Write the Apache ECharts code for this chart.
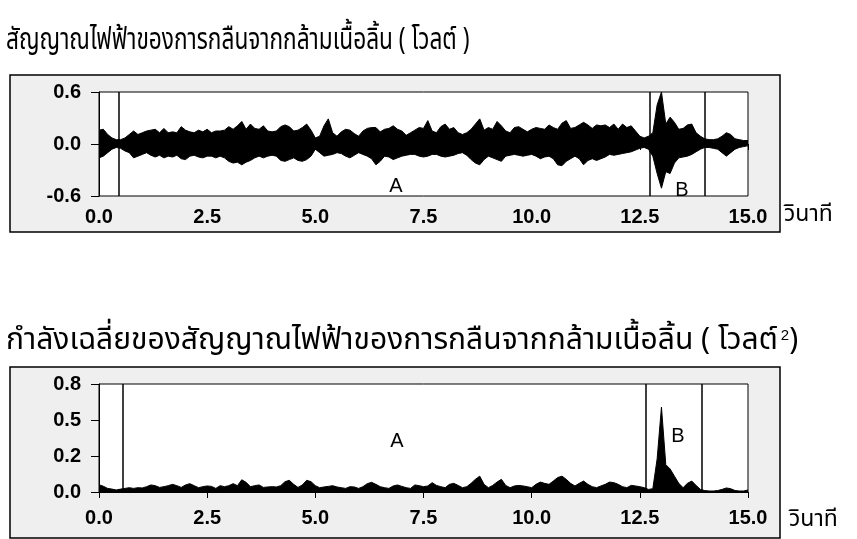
<!DOCTYPE html>
<html>
<head>
<meta charset="utf-8">
<script src="https://cdn.jsdelivr.net/npm/echarts@6/dist/echarts.min.js"></script>
<style>
    body { margin: 0; background: #fff; }
    #main { width: 857px; height: 539px; }
</style>
</head>
<body>
<div id="main"></div>
<script type="text/javascript">
    // sampled every 0.1 s, from 0.0 to 15.0 s
    var sampleStep = 0.1;

    // upper / lower envelope of the EMG signal (volt)
    var sigUpper = [
        0.16, 0.17, 0.11, 0.07, 0.05, 0.05, 0.07, 0.11, 0.15, 0.11,
        0.13, 0.15, 0.16, 0.17, 0.13, 0.18, 0.13, 0.14, 0.13, 0.20,
        0.16, 0.14, 0.13, 0.16, 0.14, 0.17, 0.13, 0.15, 0.15, 0.16,
        0.20, 0.17, 0.21, 0.26, 0.17, 0.23, 0.18, 0.17, 0.21, 0.15,
        0.14, 0.15, 0.20, 0.22, 0.20, 0.15, 0.16, 0.19, 0.23, 0.16,
        0.07, 0.09, 0.21, 0.29, 0.13, 0.09, 0.14, 0.17, 0.16, 0.12,
        0.09, 0.15, 0.18, 0.19, 0.19, 0.14, 0.17, 0.18, 0.21, 0.17,
        0.15, 0.10, 0.13, 0.16, 0.19, 0.18, 0.27, 0.15, 0.13, 0.20,
        0.23, 0.17, 0.19, 0.13, 0.11, 0.13, 0.17, 0.23, 0.29, 0.16,
        0.19, 0.17, 0.26, 0.21, 0.15, 0.13, 0.19, 0.20, 0.17, 0.14,
        0.17, 0.19, 0.18, 0.17, 0.22, 0.19, 0.17, 0.24, 0.27, 0.18,
        0.19, 0.22, 0.25, 0.22, 0.18, 0.22, 0.21, 0.22, 0.19, 0.23,
        0.17, 0.23, 0.19, 0.21, 0.15, 0.09, 0.07, 0.09, 0.13, 0.45,
        0.60, 0.23, 0.31, 0.25, 0.17, 0.18, 0.22, 0.23, 0.13, 0.09,
        0.06, 0.05, 0.05, 0.06, 0.09, 0.13, 0.11, 0.06, 0.05, 0.04,
        0.04
    ];
    var sigLower = [
        -0.16, -0.14, -0.10, -0.06, -0.04, -0.05, -0.08, -0.10, -0.16, -0.14,
        -0.12, -0.10, -0.13, -0.15, -0.13, -0.16, -0.14, -0.15, -0.13, -0.17,
        -0.18, -0.14, -0.13, -0.15, -0.16, -0.14, -0.14, -0.16, -0.14, -0.16,
        -0.20, -0.22, -0.21, -0.24, -0.21, -0.19, -0.16, -0.14, -0.16, -0.14,
        -0.13, -0.14, -0.19, -0.20, -0.18, -0.16, -0.19, -0.20, -0.18, -0.14,
        -0.06, -0.10, -0.14, -0.13, -0.12, -0.10, -0.11, -0.14, -0.16, -0.13,
        -0.10, -0.12, -0.14, -0.17, -0.24, -0.20, -0.14, -0.15, -0.18, -0.16,
        -0.14, -0.13, -0.12, -0.12, -0.14, -0.15, -0.14, -0.12, -0.12, -0.14,
        -0.15, -0.14, -0.13, -0.11, -0.10, -0.13, -0.18, -0.22, -0.24, -0.18,
        -0.14, -0.16, -0.18, -0.20, -0.14, -0.13, -0.12, -0.13, -0.14, -0.13,
        -0.12, -0.14, -0.17, -0.15, -0.14, -0.17, -0.24, -0.25, -0.20, -0.17,
        -0.14, -0.17, -0.24, -0.19, -0.17, -0.19, -0.17, -0.15, -0.12, -0.13,
        -0.12, -0.11, -0.10, -0.09, -0.07, -0.05, -0.04, -0.06, -0.14, -0.34,
        -0.51, -0.32, -0.34, -0.22, -0.16, -0.15, -0.14, -0.12, -0.09, -0.06,
        -0.04, -0.04, -0.05, -0.06, -0.10, -0.14, -0.10, -0.06, -0.04, -0.03,
        -0.02
    ];
    // average power (volt^2)
    var power = [
        0.050, 0.040, 0.025, 0.020, 0.014, 0.020, 0.025, 0.030, 0.025, 0.030,
        0.028, 0.037, 0.049, 0.044, 0.032, 0.037, 0.044, 0.053, 0.044, 0.032,
        0.049, 0.058, 0.044, 0.030, 0.037, 0.042, 0.039, 0.025, 0.044, 0.037,
        0.044, 0.058, 0.044, 0.085, 0.067, 0.037, 0.044, 0.049, 0.032, 0.035,
        0.037, 0.035, 0.044, 0.072, 0.081, 0.053, 0.032, 0.049, 0.081, 0.072,
        0.044, 0.030, 0.035, 0.039, 0.044, 0.035, 0.030, 0.025, 0.037, 0.035,
        0.025, 0.037, 0.058, 0.067, 0.053, 0.037, 0.030, 0.025, 0.042, 0.049,
        0.039, 0.030, 0.025, 0.049, 0.044, 0.037, 0.042, 0.065, 0.046, 0.037,
        0.030, 0.053, 0.060, 0.046, 0.030, 0.037, 0.060, 0.088, 0.110, 0.053,
        0.030, 0.046, 0.069, 0.088, 0.046, 0.030, 0.042, 0.046, 0.042, 0.037,
        0.030, 0.053, 0.069, 0.060, 0.053, 0.076, 0.100, 0.110, 0.088, 0.060,
        0.042, 0.060, 0.076, 0.053, 0.037, 0.030, 0.042, 0.053, 0.069, 0.065,
        0.053, 0.037, 0.030, 0.046, 0.042, 0.037, 0.030, 0.018, 0.023, 0.230,
        0.590, 0.190, 0.160, 0.110, 0.060, 0.030, 0.060, 0.076, 0.046, 0.018,
        0.010, 0.007, 0.007, 0.010, 0.018, 0.028, 0.023, 0.010, 0.007, 0.007,
        0.014
    ];

    // phase boundaries (s)
    var markersTop = [0.46, 12.73, 14.0];
    var markersBottom = [0.55, 12.63, 13.94];

    var yTicksBottom = ['0.0', '0.2', '0.5', '0.8'];

    var title1 = 'สัญญาณไฟฟ้าของการกลืนจากกล้ามเนื้อลิ้น ( โวลต์ )';
    var title2 = 'กำลังเฉลี่ยของสัญญาณไฟฟ้าของการกลืนจากกล้ามเนื้อลิ้น ( โวลต์{sup|2})';
    var unitX = 'วินาที';

    function toPairs(arr) {
        return arr.map(function (v, i) {
            return [Math.round(i * sampleStep * 10) / 10, v];
        });
    }

    var thaiFont = '"Noto Sans Thai", "Noto Sans", "DejaVu Sans", sans-serif';
    var numFont = '"Liberation Sans", Arial, sans-serif';

    var labelStyle = {
        color: '#000',
        fontFamily: numFont,
        fontWeight: 'bold',
        fontSize: 20
    };

    function xAxisFor(gridIndex, margin) {
        return {
            type: 'value', gridIndex: gridIndex, min: 0, max: 15, interval: 2.5,
            axisLine: { lineStyle: { color: '#000', width: 1 } },
            axisTick: { length: 6, lineStyle: { color: '#000' } },
            splitLine: { show: false },
            axisLabel: Object.assign({}, labelStyle, {
                margin: margin,
                formatter: function (v) { return v.toFixed(1); }
            })
        };
    }

    function yAxisFor(gridIndex, min, max, step, fmt) {
        return {
            type: 'value', gridIndex: gridIndex, min: min, max: max, interval: step,
            axisLine: { show: true, lineStyle: { color: '#000' } },
            axisTick: { show: true, length: 8, lineStyle: { color: '#000' } },
            splitLine: { show: false },
            axisLabel: Object.assign({}, labelStyle, { margin: 18, formatter: fmt })
        };
    }

    function marks(list) {
        return {
            silent: true,
            symbol: 'none',
            label: { show: false },
            lineStyle: { color: '#000', type: 'solid', width: 1.5 },
            data: list.map(function (t) { return { xAxis: t }; })
        };
    }

    function phaseText(txt, x, y) {
        return {
            type: 'text', x: x, y: y,
            style: { text: txt, fill: '#000', font: '20px "Liberation Sans", sans-serif',
                     align: 'center', verticalAlign: 'middle' }
        };
    }

    var myChart = echarts.init(document.getElementById('main'));
    myChart.setOption({
        animation: false,
        backgroundColor: '#fff',
        graphic: [
            // outer frames
            { type: 'rect', z: -10, shape: { x: 10, y: 75, width: 770, height: 157 },
              style: { fill: '#efefef', stroke: '#000', lineWidth: 1.5 } },
            { type: 'rect', z: -10, shape: { x: 10, y: 367, width: 770, height: 171 },
              style: { fill: '#efefef', stroke: '#000', lineWidth: 1.5 } },
            // titles
            { type: 'text', x: 6, y: 43, scaleX: 0.755,
              style: { text: title1, fill: '#000', font: '30px ' + thaiFont, verticalAlign: 'middle' } },
            { type: 'text', x: 6, y: 343, scaleX: 1.0,
              style: { text: title2, fill: '#000', font: '30px ' + thaiFont, verticalAlign: 'middle',
                       rich: { sup: { fontSize: 15, verticalAlign: 'top', padding: [0, 0, 14, 3], fill: '#000' } } } },
            // unit labels
            { type: 'text', x: 784, y: 216,
              style: { text: unitX, fill: '#000', font: '23px ' + thaiFont, verticalAlign: 'middle' } },
            { type: 'text', x: 789, y: 521,
              style: { text: unitX, fill: '#000', font: '23px ' + thaiFont, verticalAlign: 'middle' } },
            // phase labels
            phaseText('A', 396, 186),
            phaseText('B', 682, 190),
            phaseText('A', 397, 441),
            phaseText('B', 678, 436)
        ],
        grid: [
            { left: 99, top: 92, width: 649, height: 104, show: true,
              backgroundColor: '#fff', borderColor: '#000', borderWidth: 1 },
            { left: 99, top: 384, width: 649, height: 108, show: true,
              backgroundColor: '#fff', borderColor: '#000', borderWidth: 1 }
        ],
        xAxis: [xAxisFor(0, 11), xAxisFor(1, 16)],
        yAxis: [
            yAxisFor(0, -0.6, 0.6, 0.6, function (v) { return v.toFixed(1); }),
            yAxisFor(1, 0, 0.75, 0.25, function (v) { return yTicksBottom[Math.round(v / 0.25)]; })
        ],
        series: [
            {
                name: 'upper', type: 'line', xAxisIndex: 0, yAxisIndex: 0,
                data: toPairs(sigUpper), showSymbol: false,
                lineStyle: { color: '#000', width: 1 },
                areaStyle: { color: '#000', opacity: 1 },
                markLine: marks(markersTop)
            },
            {
                name: 'lower', type: 'line', xAxisIndex: 0, yAxisIndex: 0,
                data: toPairs(sigLower), showSymbol: false,
                lineStyle: { color: '#000', width: 1 },
                areaStyle: { color: '#000', opacity: 1 }
            },
            {
                name: 'power', type: 'line', xAxisIndex: 1, yAxisIndex: 1,
                data: toPairs(power), showSymbol: false,
                lineStyle: { color: '#000', width: 1 },
                areaStyle: { color: '#000', opacity: 1 },
                markLine: marks(markersBottom)
            }
        ]
    });
</script>
</body>
</html>
